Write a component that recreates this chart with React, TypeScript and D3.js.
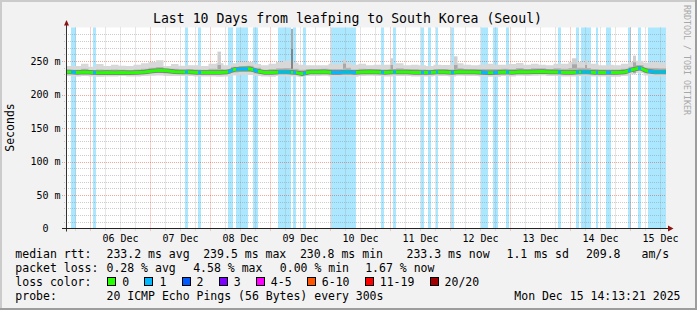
import React from "react";
import * as d3 from "d3";

// time window of the graph
const start = new Date(2025, 11, 5, 14, 13, 21);
const end = new Date(2025, 11, 15, 14, 13, 21);
const stepHours = 3;

// rtt per 3 hour slot (ms)
const medianRtt = [
  233.5, 233, 233.5, 233, 232.5, 233, 232.5, 233, 232.5, 233, 233.5, 235, 236, 235.5, 234, 233.5,
  233.5, 233, 233, 233, 233, 233.5, 237.5, 238, 238.5, 235, 233, 233, 233.5, 233.5, 233, 231,
  233.5, 233.5, 234, 233, 233, 233.5, 233, 233.5, 234, 233.5, 233, 233.5, 233.5, 233.5, 233, 233,
  233, 233.5, 233.5, 233, 234, 233.5, 233.5, 233, 232.5, 233, 233.5, 233, 234, 233.5, 234, 234.5,
  233.5, 233.5, 233, 233, 233.5, 233.5, 233, 233, 233, 233, 233.5, 237, 239.5, 235, 233.5, 233.5,
];
const maxRtt = [
  242.5, 242.5, 246, 241.5, 245.5, 242.5, 244.5, 243, 242.5, 244.5, 246.5, 248.5, 251, 242.5, 245.5, 243,
  243.5, 243.5, 242.5, 246, 246.5, 243.5, 246.5, 248.5, 248.5, 245.5, 243.5, 246, 248.5, 250.5, 247.5, 244.5,
  243.5, 243.5, 243.5, 246, 246, 247.5, 244.5, 246, 243.5, 244.5, 244.5, 244.5, 246.5, 243.5, 244.5, 243.5,
  242.5, 244.5, 244, 244, 246.5, 244.5, 243.5, 244.5, 246, 244.5, 244.5, 245.5, 247, 244.5, 246, 244.5,
  243.5, 246, 246, 248.5, 248.5, 247.5, 246, 243.5, 244.5, 243.5, 246, 248.5, 250.5, 247.5, 248.5, 247.5,
];
const upperRtt = [
  237, 237, 238.5, 236.5, 237.5, 237, 237.5, 237, 236.5, 237.5, 238.5, 240, 241, 238.5, 238.5, 237.5,
  238, 237.5, 237, 238.5, 238, 237.5, 241.5, 242.5, 243, 240, 237, 238, 239, 239.5, 238.5, 237,
  238, 238, 238.5, 238, 238, 240, 237.5, 238.5, 238, 238, 237.5, 238, 239, 238, 238, 237.5,
  237, 238, 238, 237.5, 239, 238, 238, 238, 238, 238, 238.5, 238, 239.5, 238, 239, 239,
  238, 239, 238.5, 239.5, 240, 239.5, 238, 237.5, 237.5, 237.5, 238.5, 241.5, 244, 240, 239.5, 239,
];
const lowerRtt = [
  231, 231, 231, 230.5, 230.5, 231, 230.5, 231, 230.5, 231, 231, 232, 232.5, 231.5, 231.5, 231.5,
  231.5, 231, 231, 230.5, 230.5, 231, 233, 233.5, 233.5, 231.5, 230.5, 230.5, 231.5, 231, 230.5, 229.5,
  231.5, 231.5, 232, 230.5, 230.5, 231, 230.5, 231.5, 232, 231.5, 231, 231, 231.5, 231.5, 231, 231,
  231, 231.5, 231.5, 231, 232, 231.5, 231.5, 231, 230, 230.5, 231.5, 231, 232, 231.5, 232, 232.5,
  231.5, 231.5, 231, 231, 231.5, 231.5, 231, 231, 230.5, 230.5, 231.5, 234, 236, 232.5, 231, 231,
];
const minRtt = [
  227.5, 227, 227.5, 227, 226.5, 227, 227, 227.5, 227, 227, 227.5, 228, 228.5, 227.5, 227.5, 227.5,
  227.5, 227, 227, 227, 226.5, 227, 228.5, 229, 229, 227.5, 227, 226.5, 227.5, 227, 227, 226,
  227.5, 227.5, 228, 227, 227, 227, 226.5, 227.5, 228, 227.5, 227, 227, 227.5, 227.5, 227, 227,
  227, 227.5, 227.5, 227, 228, 227.5, 227.5, 227, 226.5, 226.5, 227.5, 227, 228, 227.5, 228, 228.5,
  227.5, 227.5, 227, 227, 227.5, 227.5, 227, 227, 226.5, 226.5, 227.5, 230, 232, 228.5, 227, 227,
];

// periods with 1/20 packet loss: [from hour, to hour] after start
const lossPeriods = [
  [2.0, 4.0], [10.8, 12.0], [47.8, 48.8], [52.8, 54.0], [64.8, 66.8], [68.0, 72.8],
  [74.8, 76.6], [84.8, 90.0], [90.8, 92.0], [94.8, 96.0], [106.0, 116.0], [126.0, 127.0],
  [130.8, 132.0], [142.0, 143.0], [144.8, 146.0], [147.8, 148.8], [154.0, 155.0], [166.0, 168.8],
  [170.8, 172.8], [176.0, 177.0], [196.8, 198.0], [204.0, 205.0], [206.0, 210.0], [212.0, 213.0],
  [216.0, 218.0], [224.8, 226.0], [228.8, 230.0], [232.8, 240.0],
];

// short spikes: [from hour, to hour, max ms, inner ms]
const spikes = [
  [60.6, 62.0, 264, 244], [90.0, 90.8, 298, 268], [110.8, 112.0, 252, 246],
  [129.8, 130.8, 254, 244], [155.2, 156.6, 257, 244], [202.4, 204.4, 254, 245],
  [207.6, 208.4, 252, 244], [226.8, 228.0, 258, 248],
];

const yTicks = [0, 50, 100, 150, 200, 250];

const rttStats = ["233.2 ms avg", "239.5 ms max", "230.8 ms min", "233.3 ms now", "1.1 ms sd", "209.8", "am/s"];
const lossStats = ["0.28 % avg", "4.58 % max", "0.00 % min", "1.67 % now"];
const lossLabels = ["0", "1", "2", "3", "4-5", "6-10", "11-19", "20/20"];
const lossColors = ["#26ff00", "#00b8ff", "#0059ff", "#7e00ff", "#ff00ff", "#ff5500", "#ff0000", "#a10000"];
const probeText = "20 ICMP Echo Pings (56 Bytes) every 300s";
const stampText = "Mon Dec 15 14:13:21 2025";

const W = 697;
const H = 310;
const plot = { left: 66, right: 666, top: 27.5, bottom: 228.5 };
const mono = "'DejaVu Sans Mono', monospace";
const CH = 6.93; // legend char width

const rttX = [106.5, 203.2, 299.9, 406.5, 506.5, 585.9, 641.5];
const lossX = [106.5, 193.2, 279.8, 365.2];

const App = () => {
  const x = d3.scaleTime().domain([start, end]).range([plot.left, plot.right]);
  const y = d3.scaleLinear().domain([0, 300]).range([plot.bottom, plot.top]);
  const at = (h: number) => new Date(start.getTime() + h * 3600e3);
  const px = (v: number) => Math.round(v) + 0.5;

  const smoke = medianRtt.map((m, i) => ({
    t: at(i * stepHours),
    m,
    hi: maxRtt[i],
    up: upperRtt[i],
    lo: lowerRtt[i],
    mn: minRtt[i],
  }));
  smoke.push({ ...smoke[smoke.length - 1], t: end });

  const band = (a: string, b: string) =>
    d3
      .area<any>()
      .x((d) => x(d.t))
      .y0((d) => y(d[a]))
      .y1((d) => y(d[b]))
      .curve(d3.curveStepAfter)(smoke) as string;

  const medPts = [
    { t: start, v: medianRtt[0] },
    ...medianRtt.map((v, i) => ({ t: at(i * stepHours + stepHours / 2), v })),
    { t: end, v: medianRtt[medianRtt.length - 1] },
  ];
  const medPath = d3
    .line<any>()
    .x((d) => x(d.t))
    .y((d) => y(d.v))(medPts) as string;

  const minorV = d3.timeHour.every(6)!.range(start, end).filter((d) => d.getHours() !== 0);
  const majorV = d3.timeDay.range(start, end);
  const dayLabels = d3.timeDay.range(d3.timeDay.floor(start), end).map((d) => d3.timeHour.offset(d, 12)).filter((d) => d > start);
  const minorH = d3.range(10, 300, 10).filter((v) => v % 50 !== 0);
  const majorH = yTicks.filter((v) => v > 0);

  // legend layout for loss colours
  let bx = 108.3;
  const boxes = lossLabels.map((l, i) => {
    const pos = bx;
    bx += 14 + l.length * CH + 16.2;
    return { l, c: lossColors[i], pos };
  });

  return (
    <svg width={W} height={H} style={{ position: "absolute", left: 0, top: 0 }} fontFamily={mono}>
      <rect x={0} y={0} width={W} height={H} fill="#f2f2f2" />
      <rect x={0} y={0} width={W} height={2} fill="#cbcbcb" />
      <rect x={0} y={0} width={2} height={H} fill="#cbcbcb" />
      <rect x={0} y={H - 2} width={W} height={2} fill="#9d9d9d" />
      <rect x={W - 2} y={0} width={2} height={H} fill="#9d9d9d" />

      <rect x={plot.left} y={plot.top} width={plot.right - plot.left} height={plot.bottom - plot.top} fill="#ffffff" />

      {/* loss background */}
      <clipPath id="loss">
        {lossPeriods.map(([a, b], i) => (
          <rect key={i} x={Math.round(x(at(a)))} y={plot.top} width={Math.max(1, Math.round(x(at(b))) - Math.round(x(at(a))))} height={plot.bottom - plot.top} />
        ))}
      </clipPath>
      {lossPeriods.map(([a, b], i) => (
        <rect
          key={i}
          x={Math.round(x(at(a)))}
          y={plot.top}
          width={Math.max(1, Math.round(x(at(b))) - Math.round(x(at(a))))}
          height={plot.bottom - plot.top}
          fill="#00b8ff"
          fillOpacity={0.33}
        />
      ))}

      {/* grid */}
      <g strokeDasharray="1 1" strokeWidth={1}>
        {minorH.map((v) => (
          <line key={"mh" + v} x1={plot.left - 2} x2={plot.right} y1={px(y(v))} y2={px(y(v))} stroke="#8f8f8f" strokeOpacity={0.45} />
        ))}
        {minorV.map((d) => (
          <line key={"mv" + +d} x1={px(x(d))} x2={px(x(d))} y1={plot.top} y2={plot.bottom + 2} stroke="#8f8f8f" strokeOpacity={0.45} />
        ))}
        {majorH.map((v) => (
          <line key={"Mh" + v} x1={plot.left - 4} x2={plot.right} y1={px(y(v))} y2={px(y(v))} stroke="#e92000" strokeOpacity={0.4} />
        ))}
        {majorV.map((d) => (
          <line key={"Mv" + +d} x1={px(x(d))} x2={px(x(d))} y1={plot.top} y2={plot.bottom + 3} stroke="#e92000" strokeOpacity={0.4} />
        ))}
      </g>

      {/* smoke */}
      <path d={band("mn", "hi")} fill="#d8d8d8" />
      {spikes.map(([a, b, p, q], i) => (
        <g key={i}>
          <rect x={x(at(a))} width={Math.max(2, x(at(b)) - x(at(a)))} y={y(p)} height={y(232) - y(p)} fill={p > 280 ? "#aaaaaa" : "#cfcfcf"} />
          <rect x={x(at(a))} width={Math.max(2, x(at(b)) - x(at(a)))} y={y(q)} height={y(232) - y(q)} fill={p > 280 ? "#858585" : "#a8a8a8"} />
        </g>
      ))}
      <path d={band("lo", "up")} fill="#b6b6b6" />
      <path d={medPath} fill="none" stroke="#7a7a7a" strokeWidth={4.5} />
      <path d={medPath} fill="none" stroke={lossColors[0]} strokeWidth={3} />
      <path d={medPath} fill="none" stroke={lossColors[1]} strokeWidth={3} clipPath="url(#loss)" />

      {/* axes */}
      <line x1={plot.left + 0.5} x2={plot.left + 0.5} y1={plot.bottom + 3} y2={22} stroke="#333" />
      <line x1={plot.left - 4} x2={669} y1={plot.bottom} y2={plot.bottom} stroke="#222" />
      <polygon points={`${plot.left - 2},25.5 ${plot.left + 3},25.5 ${plot.left + 0.5},20`} fill="#8b1515" />
      <polygon points={`668,${plot.bottom - 3} 668,${plot.bottom + 3} 673.5,${plot.bottom}`} fill="#8b1515" />

      {/* y labels */}
      <g fontSize={10} fill="#000">
        {yTicks.map((v) => (
          <text key={v} x={v === 0 ? 48.6 : 60.6} y={y(v) + 3.6} textAnchor="end">
            {v === 0 ? "0" : `${v} m`}
          </text>
        ))}
        {dayLabels.map((d) => (
          <text key={+d} x={x(d)} y={242} textAnchor="middle">
            {d3.timeFormat("%d %b")(d)}
          </text>
        ))}
      </g>

      <text x={347.5} y={23} textAnchor="middle" fontSize={13.2}>
        Last 10 Days from leafping to South Korea (Seoul)
      </text>
      <text transform="translate(14,127.5) rotate(-90)" textAnchor="middle" fontSize={11.5}>
        Seconds
      </text>
      <text transform="translate(684,5) rotate(90)" fontSize={8.3} fill="#a8a8a8">
        RRDTOOL / TOBI OETIKER
      </text>

      {/* legend */}
      <g fontSize={11.5} fill="#000">
        <text x={15.3} y={258}>median rtt:</text>
        {rttStats.map((s, i) => (
          <text key={s} x={rttX[i]} y={258}>{s}</text>
        ))}
        <text x={15.3} y={272}>packet loss:</text>
        {lossStats.map((s, i) => (
          <text key={s} x={lossX[i]} y={272}>{s}</text>
        ))}
        <text x={15.3} y={286}>loss color:</text>
        {boxes.map((b) => (
          <g key={b.l}>
            <rect x={Math.round(b.pos) - 0.5} y={277.5} width={8} height={8} fill={b.c} stroke="#000" />
            <text x={b.pos + 14} y={286}>{b.l}</text>
          </g>
        ))}
        <text x={15.3} y={300}>probe:</text>
        <text x={106.5} y={300}>{probeText}</text>
        <text x={680.5} y={300} textAnchor="end">{stampText}</text>
      </g>
    </svg>
  );
};

export default App;
